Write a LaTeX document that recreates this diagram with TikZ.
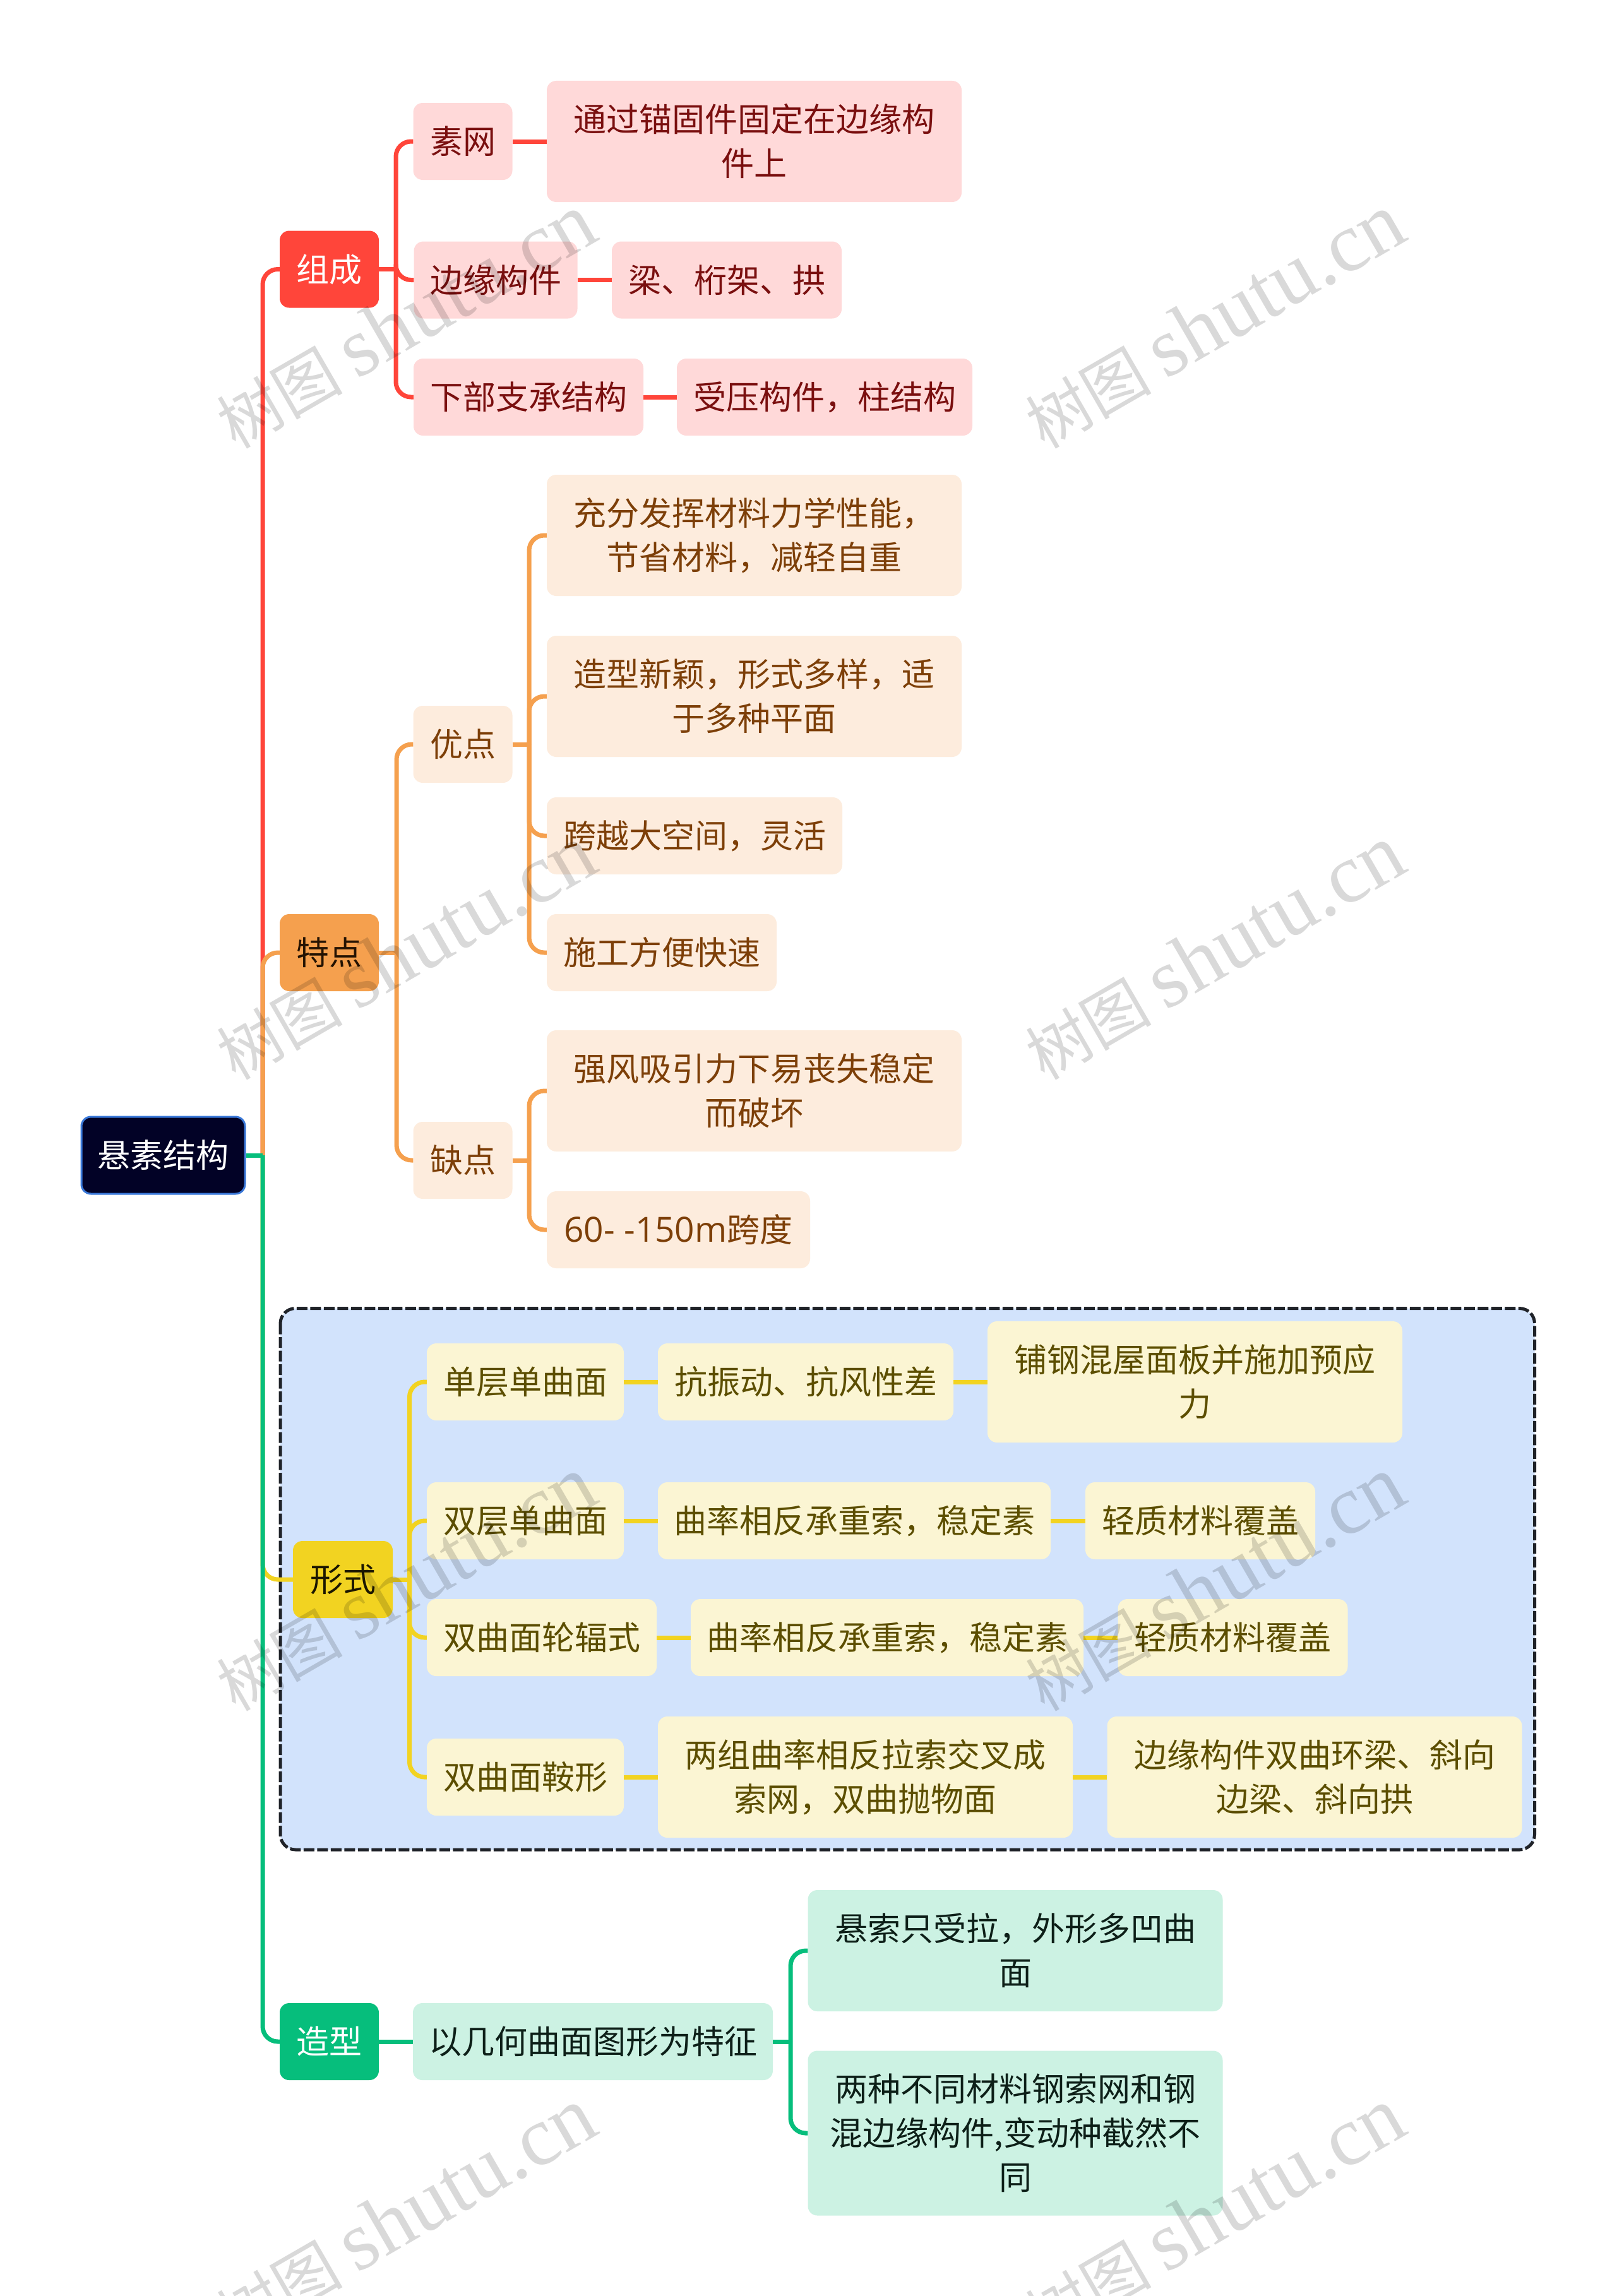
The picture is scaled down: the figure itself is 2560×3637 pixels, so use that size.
\documentclass[tikz,border=0pt]{standalone}
\usepackage{fontspec}
\setmainfont{Noto Sans CJK SC}
\newfontfamily\markfont{Liberation Serif}
\newfontfamily\numfont{Open Sans}
\definecolor{rootfill}{HTML}{020226}
\definecolor{rootline}{HTML}{3A78D8}
\definecolor{redroot}{HTML}{FF453A}
\definecolor{redleaf}{HTML}{FFD9D9}
\definecolor{redtext}{HTML}{7A0F0F}
\definecolor{orgroot}{HTML}{F5A04E}
\definecolor{orgleaf}{HTML}{FDECDD}
\definecolor{orgtext}{HTML}{7D3F08}
\definecolor{yelroot}{HTML}{F2D321}
\definecolor{yelleaf}{HTML}{FBF5D3}
\definecolor{yeltext}{HTML}{5C4E00}
\definecolor{grnroot}{HTML}{06BE7C}
\definecolor{grnleaf}{HTML}{CCF2E3}
\definecolor{grntext}{HTML}{0D1F18}
\definecolor{bluebox}{HTML}{D2E3FC}
\definecolor{dashline}{HTML}{202329}
\begin{document}
\begin{tikzpicture}[x=1pt,y=-1pt,line join=round,
	box/.style={rectangle,rounded corners=15,inner sep=0pt,align=center,minimum height=122,font=\fontsize{52}{70}\selectfont},
	tall/.style={minimum height=192},
	root/.style={box,fill=rootfill,draw=rootline,line width=3,text=white},
	redtop/.style={box,fill=redroot,text=white},
	redbox/.style={box,fill=redleaf,text=redtext},
	orgtop/.style={box,fill=orgroot,text=black!70!orgtext},
	orgbox/.style={box,fill=orgleaf,text=orgtext},
	yeltop/.style={box,fill=yelroot,text=black!70!yeltext},
	yelbox/.style={box,fill=yelleaf,text=yeltext},
	grntop/.style={box,fill=grnroot,text=white},
	grnbox/.style={box,fill=grnleaf,text=grntext},
	link/.style={line width=7,rounded corners=24},
	wmark/.style={rotate=30,text=black,text opacity=.15,font=\fontsize{100}{100}\selectfont}]
	%==page
	\fill[white] (0,0) rectangle (2560,3637);
	\useasboundingbox (0,0) rectangle (2560,3637);
	\draw[fill=bluebox,draw=dashline,line width=5,dash pattern=on 17 off 4.5,rounded corners=24] (444,2072.5) rectangle (2430.5,2930);
	%==nodes
	\node[root,minimum width=259] (xuansuo) at (258.5,1830) {悬素结构};
	\node[redtop,minimum width=157] (zucheng) at (521.5,426.5) {组成};
	\node[redbox,minimum width=157] (suowang) at (733,224) {素网};
	\node[redbox,tall,minimum width=657] (tongguo) at (1194.5,224) {通过锚固件固定在边缘构\\件上};
	\node[redbox,minimum width=259] (bianyuan) at (785,443.5) {边缘构件};
	\node[redbox,minimum width=364] (liang) at (1151,443.5) {梁、桁架、拱};
	\node[redbox,minimum width=364] (xiabu) at (837,629) {下部支承结构};
	\node[redbox,minimum width=468] (shouya) at (1306,629) {受压构件，柱结构};
	\node[orgtop,minimum width=157] (tedian) at (521.5,1509) {特点};
	\node[orgbox,minimum width=157] (youdian) at (733,1179) {优点};
	\node[orgbox,tall,minimum width=657] (chongfen) at (1194.5,848) {充分发挥材料力学性能，\\节省材料，减轻自重};
	\node[orgbox,tall,minimum width=657] (zaoxing) at (1194.5,1103) {造型新颖，形式多样，适\\于多种平面};
	\node[orgbox,minimum width=468] (kuayue) at (1100,1324) {跨越大空间，灵活};
	\node[orgbox,minimum width=364] (shigong) at (1048,1509) {施工方便快速};
	\node[orgbox,minimum width=157] (quedian) at (733,1838) {缺点};
	\node[orgbox,tall,minimum width=657] (qiangfeng) at (1194.5,1728) {强风吸引力下易丧失稳定\\而破坏};
	\node[orgbox,minimum width=417] (kuadu) at (1074.5,1948) {{\numfont\fontsize{55}{70}\selectfont 60- -150m}跨度};
	\node[yeltop,minimum width=158] (xingshi) at (543,2502) {形式};
	\node[yelbox,minimum width=312] (dancen) at (832,2189) {单层单曲面};
	\node[yelbox,minimum width=468] (kangzhen) at (1276,2189) {抗振动、抗风性差};
	\node[yelbox,tall,minimum width=657] (pugang) at (1892.5,2189) {铺钢混屋面板并施加预应\\力};
	\node[yelbox,minimum width=312] (shuangcen) at (832,2409) {双层单曲面};
	\node[yelbox,minimum width=622] (qulvA) at (1353,2409) {曲率相反承重索，稳定素};
	\node[yelbox,minimum width=364] (qingzhiA) at (1901,2409) {轻质材料覆盖};
	\node[yelbox,minimum width=364] (lunfu) at (858,2594) {双曲面轮辐式};
	\node[yelbox,minimum width=622] (qulvB) at (1405,2594) {曲率相反承重索，稳定素};
	\node[yelbox,minimum width=364] (qingzhiB) at (1952.5,2594) {轻质材料覆盖};
	\node[yelbox,minimum width=312] (anxing) at (832,2815) {双曲面鞍形};
	\node[yelbox,tall,minimum width=657] (liangzu) at (1370.5,2815) {两组曲率相反拉索交叉成\\索网，双曲抛物面};
	\node[yelbox,tall,minimum width=657] (huanliang) at (2082,2815) {边缘构件双曲环梁、斜向\\边梁、斜向拱};
	\node[grntop,minimum width=157] (zaox) at (521.5,3234) {造型};
	\node[grnbox,minimum width=570] (jihe) at (939,3234) {以几何曲面图形为特征};
	\node[grnbox,tall,minimum width=657] (zhishou) at (1608,3090) {悬索只受拉，外形多凹曲\\面};
	\node[grnbox,minimum height=261,minimum width=657] (liangzhong) at (1608,3379) {两种不同材料钢索网和钢\\混边缘构件,变动种截然不\\同};
	%==connectors
	\coordinate (trunk) at (416,1830);
	\coordinate (redbus) at (627,426.5);
	\coordinate (orgbus) at (628,1509);
	\coordinate (youbus) at (838,1179);
	\coordinate (quebus) at (838,1838);
	\coordinate (yelbus) at (648.5,2502);
	\coordinate (grnbus) at (1252,3234);
	\draw[link,redroot] (trunk) |- (zucheng.west);
	\draw[link,redroot] (zucheng.east)--(redbus);
	\foreach \n in {suowang,bianyuan,xiabu} \draw[link,redroot] (redbus) |- (\n.west);
	\draw[link,redroot] (suowang)--(tongguo) (bianyuan)--(liang) (xiabu)--(shouya);
	\draw[link,orgroot] (trunk) |- (tedian.west);
	\draw[link,orgroot] (tedian.east)--(orgbus);
	\foreach \n in {youdian,quedian} \draw[link,orgroot] (orgbus) |- (\n.west);
	\draw[link,orgroot] (youdian.east)--(youbus);
	\foreach \n in {chongfen,zaoxing,kuayue,shigong} \draw[link,orgroot] (youbus) |- (\n.west);
	\draw[link,orgroot] (quedian.east)--(quebus);
	\foreach \n in {qiangfeng,kuadu} \draw[link,orgroot] (quebus) |- (\n.west);
	\draw[link,yelroot] (trunk) |- (xingshi.west);
	\draw[link,yelroot] (xingshi.east)--(yelbus);
	\foreach \n in {dancen,shuangcen,lunfu,anxing} \draw[link,yelroot] (yelbus) |- (\n.west);
	\draw[link,yelroot] (dancen.east)--(kangzhen.west) (kangzhen.east)--(pugang.west);
	\draw[link,yelroot] (shuangcen.east)--(qulvA.west) (qulvA.east)--(qingzhiA.west);
	\draw[link,yelroot] (lunfu.east)--(qulvB.west) (qulvB.east)--(qingzhiB.west);
	\draw[link,yelroot] (anxing.east)--(liangzu.west) (liangzu.east)--(huanliang.west);
	\draw[link,grnroot] (xuansuo.east)--(trunk);
	\draw[link,grnroot] (trunk) |- (zaox.west);
	\draw[link,grnroot] (zaox.east)--(jihe.west) (jihe.east)--(grnbus);
	\foreach \n in {zhishou,liangzhong} \draw[link,grnroot] (grnbus) |- (\n.west);
	%==watermark
	\foreach \y in {509,1509,2509,3509}
		\foreach \x in {642,1923}
			\node[wmark] (shutu\x\y) at (\x,\y) {树图 {\markfont\fontsize{133}{133}\selectfont shutu.cn}};
\end{tikzpicture}
\end{document}
